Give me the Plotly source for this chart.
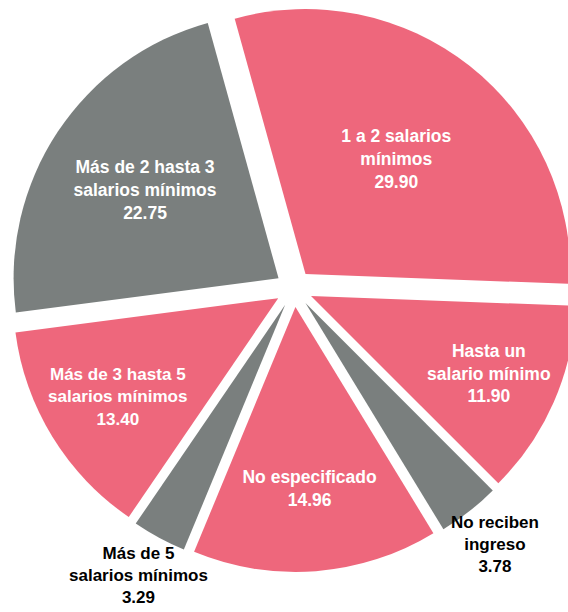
import math
import plotly.graph_objects as go

labels = [
    "1 a 2 salarios<br>mínimos",
    "Hasta un<br>salario mínimo",
    "No reciben<br>ingreso",
    "No especificado",
    "Más de 5<br>salarios mínimos",
    "Más de 3 hasta 5<br>salarios mínimos",
    "Más de 2 hasta 3<br>salarios mínimos",
]
values = [29.90, 11.90, 3.78, 14.96, 3.29, 13.40, 22.75]
colors = ["#EE677C", "#EE677C", "#7A7F7E", "#EE677C", "#7A7F7E", "#EE677C", "#7A7F7E"]
label_outside = [False, False, True, False, True, False, False]

ROTATION = -15.5
PULL = 0.07
FONT = "Liberation Sans"
FSIZE = 17.5
OUT_FSIZE = 17
W, H = 578, 612
M = dict(l=10, r=0, t=5, b=40)

fig = go.Figure(
    go.Pie(
        labels=labels,
        values=values,
        sort=False,
        direction="clockwise",
        rotation=ROTATION,
        pull=PULL,
        automargin=False,
        marker=dict(colors=colors, line=dict(width=0)),
        texttemplate="%{label}<br>%{value:.2f}",
        textposition=["none" if o else "inside" for o in label_outside],
        insidetextorientation="horizontal",
        insidetextfont=dict(color="white", size=FSIZE, family=FONT, weight="bold"),
        showlegend=False,
        hoverinfo="label+value",
    )
)

# outside labels, placed along each slice's bisector just beyond the pie
plot_w = W - M["l"] - M["r"]
plot_h = H - M["t"] - M["b"]
radius = min(plot_w, plot_h) / 2 / (1 + PULL)
total = sum(values)
cum = 0.0
for lab, val, out in zip(labels, values, label_outside):
    mid = math.radians(ROTATION + 360.0 * (cum + val / 2) / total)
    cum += val
    if not out:
        continue
    dist = 1.23 * radius
    fig.add_annotation(
        x=0.5 + dist * math.sin(mid) / plot_w,
        y=0.5 + dist * math.cos(mid) / plot_h,
        xref="paper",
        yref="paper",
        text=f"{lab}<br>{val:.2f}",
        showarrow=False,
        xanchor="center",
        yanchor="middle",
        align="center",
        font=dict(color="black", size=OUT_FSIZE, family=FONT, weight="bold"),
    )

fig.update_layout(
    width=W,
    height=H,
    margin=dict(**M, autoexpand=False),
    paper_bgcolor="white",
    plot_bgcolor="white",
)

fig.write_html(
    "out.html",
    config={"displayModeBar": False},
    post_script="document.body.style.overflow='hidden';document.body.style.margin='0';",
)
